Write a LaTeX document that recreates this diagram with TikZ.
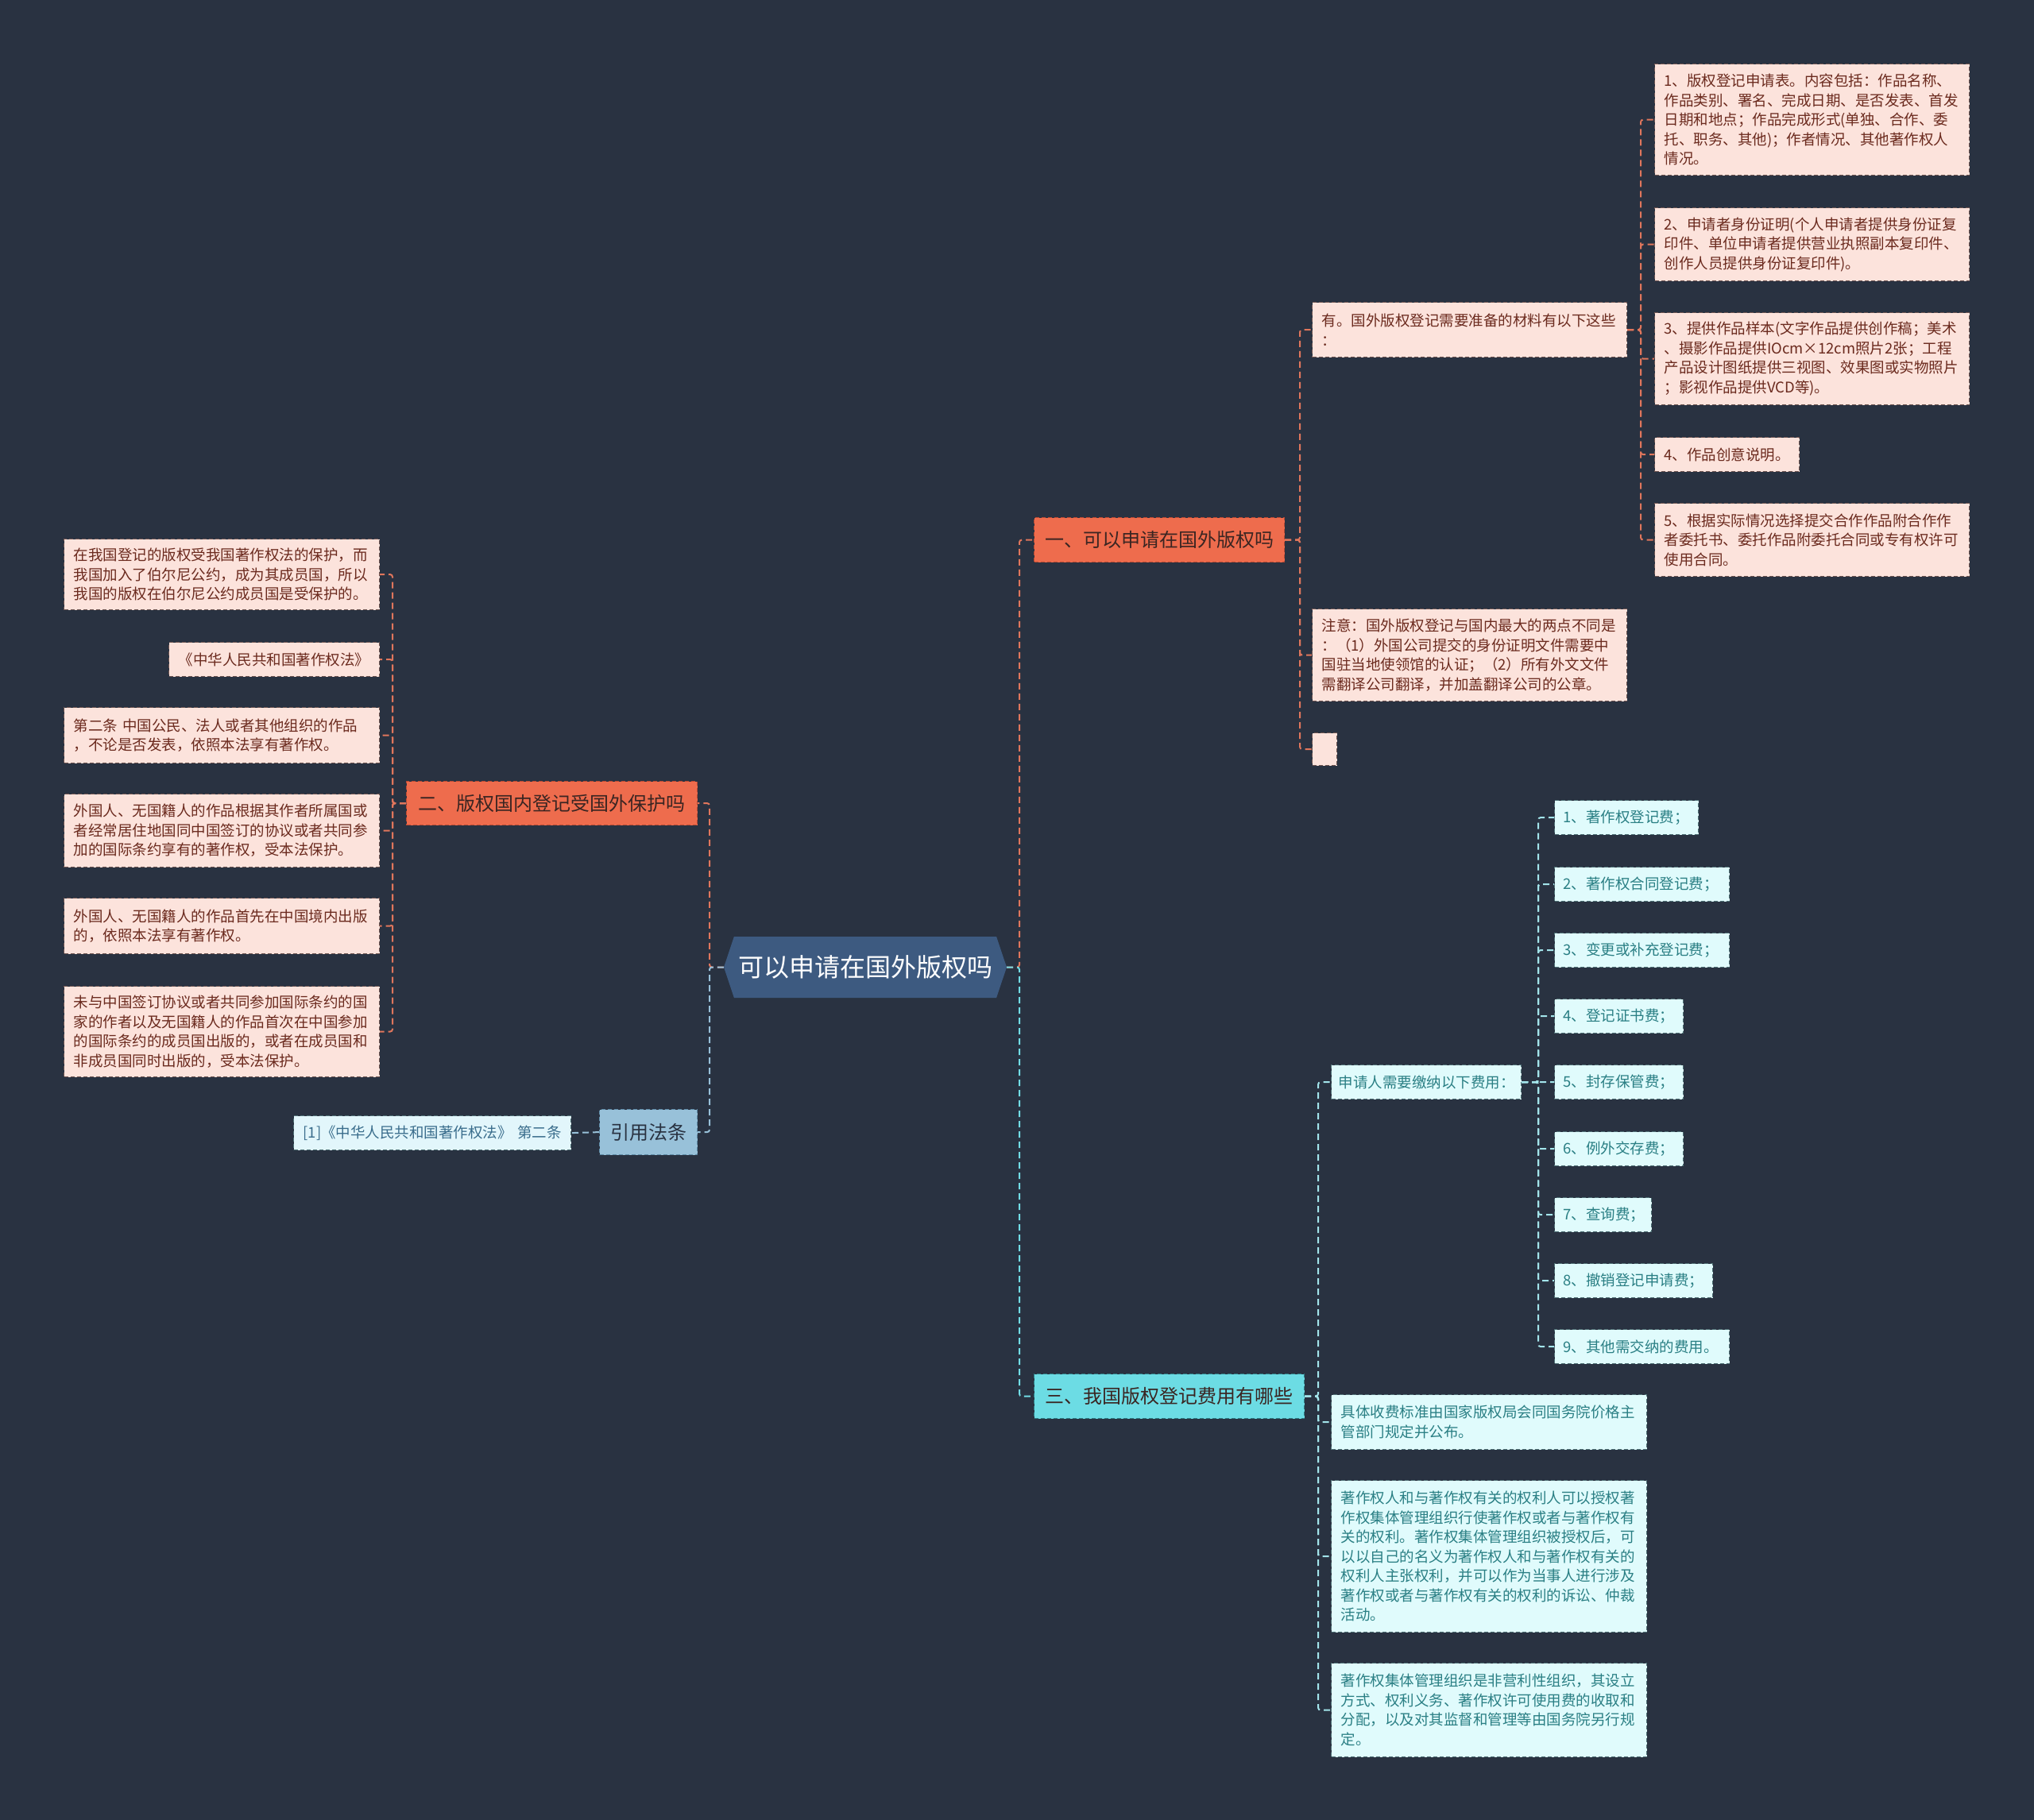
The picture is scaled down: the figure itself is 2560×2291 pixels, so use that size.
\documentclass[tikz,border=0pt]{standalone}
\usepackage{fontspec}
\setmainfont{Noto Sans CJK SC}
\usetikzlibrary{shapes.symbols}
\definecolor{bgc}{HTML}{293241}
\definecolor{rootfill}{HTML}{3D5A80}
\definecolor{orangefill}{HTML}{EE6C4D}
\definecolor{orangeedge}{HTML}{B94A33}
\definecolor{cyanmainfill}{HTML}{6CDCE4}
\definecolor{cyanmainedge}{HTML}{2F7C84}
\definecolor{bluefill}{HTML}{98C1D9}
\definecolor{blueedge}{HTML}{5F8BA6}
\definecolor{maindark}{HTML}{3A2522}
\definecolor{pinkfill}{HTML}{FCE3DC}
\definecolor{pinkedge}{HTML}{6E5450}
\definecolor{pinktext}{HTML}{6B2A1E}
\definecolor{cyanfill}{HTML}{E0FBFC}
\definecolor{cyanedge}{HTML}{4F7075}
\definecolor{cyantext}{HTML}{2A7F84}
\definecolor{reffill}{HTML}{E2F6FB}
\definecolor{reftext}{HTML}{3A6D8C}
\definecolor{orangeline}{HTML}{E0765C}
\definecolor{cyanline}{HTML}{72DDE6}
\definecolor{cyanline2}{HTML}{A3E5EB}
\definecolor{blueline}{HTML}{98C1D9}
\begin{document}
\begin{tikzpicture}[x=1pt,y=-1pt,
  rootnode/.style={shape=signal, signal to=east and west, signal pointer angle=143,
    fill=rootfill, text=white, minimum width=356pt, minimum height=77pt, inner sep=0pt,
    font=\fontsize{32}{38}\selectfont},
  mainbase/.style={anchor=north west, inner sep=0pt, line width=1.2pt,
    dash pattern=on 5pt off 3pt, font=\fontsize{24}{29}\selectfont},
  orangemain/.style={mainbase, fill=orangefill, draw=orangeedge, text=maindark},
  cyanmain/.style={mainbase, fill=cyanmainfill, draw=cyanmainedge, text=maindark},
  bluemain/.style={mainbase, fill=bluefill, draw=blueedge, text=bgc},
  leafbase/.style={anchor=north west, align=left, inner xsep=12pt, inner ysep=0pt,
    line width=1.2pt, dash pattern=on 5pt off 3pt, font=\fontsize{18.5}{24.5}\selectfont},
  pinkleaf/.style={leafbase, fill=pinkfill, draw=pinkedge, text=pinktext},
  cyanleaf/.style={leafbase, fill=cyanfill, draw=cyanedge, text=cyantext},
  feeleaf/.style={cyanleaf, inner xsep=11pt, minimum height=43pt},
  refleaf/.style={leafbase, inner xsep=12pt, fill=reffill, draw=cyanedge, text=reftext, minimum height=43pt},
  connbase/.style={line width=2pt, dash pattern=on 8pt off 5pt, rounded corners=3pt},
  oc/.style={connbase, draw=orangeline},
  cc/.style={connbase, draw=cyanline},
  cc2/.style={connbase, draw=cyanline2},
  bc/.style={connbase, draw=blueline}
]
\fill[bgc] (0,0) rectangle (2560,2291);
\useasboundingbox (0,0) rectangle (2560,2291);

% root
\node[rootnode] (root) at (1089,1217.5) {可以申请在国外版权吗};

% main branches
\node[orangemain, minimum width=315pt, minimum height=56pt] (b1) at (1301,651) {一、可以申请在国外版权吗};
\node[orangemain, minimum width=366pt, minimum height=55pt] (b2) at (511,983) {二、版权国内登记受国外保护吗};
\node[cyanmain, minimum width=340pt, minimum height=56pt] (b3) at (1301,1729) {三、我国版权登记费用有哪些};
\node[bluemain, minimum width=123pt, minimum height=57pt] (b4) at (754,1396) {引用法条};

% branch 1 children
\node[pinkleaf, text width=372pt, minimum height=69pt] (a1) at (1651,380) {有。国外版权登记需要准备的材料有以下这些\\：};
\node[pinkleaf, text width=372pt, minimum height=116pt] (a2) at (1651,766) {注意：国外版权登记与国内最大的两点不同是\\：（1）外国公司提交的身份证明文件需要中\\国驻当地使领馆的认证；（2）所有外文文件\\需翻译公司翻译，并加盖翻译公司的公章。};
\node[pinkleaf, inner xsep=0pt, minimum width=31pt, minimum height=41pt] (a3) at (1651,922) {};

% materials
\node[pinkleaf, text width=372pt, minimum height=140pt] (m1) at (2082,80) {1、版权登记申请表。内容包括：作品名称、\\作品类别、署名、完成日期、是否发表、首发\\日期和地点；作品完成形式(单独、合作、委\\托、职务、其他)；作者情况、其他著作权人\\情况。};
\node[pinkleaf, text width=372pt, minimum height=92pt] (m2) at (2082,261) {2、申请者身份证明(个人申请者提供身份证复\\印件、单位申请者提供营业执照副本复印件、\\创作人员提供身份证复印件)。};
\node[pinkleaf, text width=372pt, minimum height=116pt] (m3) at (2082,393) {3、提供作品样本(文字作品提供创作稿；美术\\、摄影作品提供IOcm×12cm照片2张；工程\\产品设计图纸提供三视图、效果图或实物照片\\；影视作品提供VCD等)。};
\node[pinkleaf, text width=158pt, minimum height=43pt] (m4) at (2082,550) {4、作品创意说明。};
\node[pinkleaf, text width=372pt, minimum height=92pt] (m5) at (2082,633) {5、根据实际情况选择提交合作作品附合作作\\者委托书、委托作品附委托合同或专有权许可\\使用合同。};

% branch 2 children
\node[pinkleaf, text width=373pt, minimum height=89pt] (l1) at (80,678) {在我国登记的版权受我国著作权法的保护，而\\我国加入了伯尔尼公约，成为其成员国，所以\\我国的版权在伯尔尼公约成员国是受保护的。};
\node[pinkleaf, text width=241pt, minimum height=43pt] (l2) at (212,808) {《中华人民共和国著作权法》};
\node[pinkleaf, text width=373pt, minimum height=70pt] (l3) at (80,890) {第二条 中国公民、法人或者其他组织的作品\\，不论是否发表，依照本法享有著作权。};
\node[pinkleaf, text width=373pt, minimum height=92pt] (l4) at (80,999) {外国人、无国籍人的作品根据其作者所属国或\\者经常居住地国同中国签订的协议或者共同参\\加的国际条约享有的著作权，受本法保护。};
\node[pinkleaf, text width=373pt, minimum height=70pt] (l5) at (80,1130) {外国人、无国籍人的作品首先在中国境内出版\\的，依照本法享有著作权。};
\node[pinkleaf, text width=373pt, minimum height=114pt] (l6) at (80,1241) {未与中国签订协议或者共同参加国际条约的国\\家的作者以及无国籍人的作品首次在中国参加\\的国际条约的成员国出版的，或者在成员国和\\非成员国同时出版的，受本法保护。};

% reference
\node[refleaf, text width=325pt] (r1) at (369,1404) {[1]《中华人民共和国著作权法》 第二条};

% branch 3 children
\node[cyanleaf, inner xsep=9pt, text width=221pt, minimum height=43pt] (c1) at (1675,1340) {申请人需要缴纳以下费用：};
\node[cyanleaf, text width=373pt, minimum height=69pt] (c2) at (1675,1755) {具体收费标准由国家版权局会同国务院价格主\\管部门规定并公布。};
\node[cyanleaf, text width=373pt, minimum height=191pt] (c3) at (1675,1863) {著作权人和与著作权有关的权利人可以授权著\\作权集体管理组织行使著作权或者与著作权有\\关的权利。著作权集体管理组织被授权后，可\\以以自己的名义为著作权人和与著作权有关的\\权利人主张权利，并可以作为当事人进行涉及\\著作权或者与著作权有关的权利的诉讼、仲裁\\活动。};
\node[cyanleaf, text width=373pt, minimum height=118pt] (c4) at (1675,2093) {著作权集体管理组织是非营利性组织，其设立\\方式、权利义务、著作权许可使用费的收取和\\分配，以及对其监督和管理等由国务院另行规\\定。};

% fees
\node[feeleaf, text width=159pt] (f1) at (1956,1007) {1、著作权登记费；};
\node[feeleaf, text width=198pt] (f2) at (1956,1091) {2、著作权合同登记费；};
\node[feeleaf, text width=198pt] (f3) at (1956,1174) {3、变更或补充登记费；};
\node[feeleaf, text width=140pt] (f4) at (1956,1257) {4、登记证书费；};
\node[feeleaf, text width=140pt] (f5) at (1956,1340) {5、封存保管费；};
\node[feeleaf, text width=140pt] (f6) at (1956,1424) {6、例外交存费；};
\node[feeleaf, text width=100pt] (f7) at (1956,1507) {7、查询费；};
\node[feeleaf, text width=177pt] (f8) at (1956,1590) {8、撤销登记申请费；};
\node[feeleaf, text width=198pt] (f9) at (1956,1673) {9、其他需交纳的费用。};

% vertical rails
\coordinate (vR) at (1283,0);
\coordinate (vL) at (893,0);
\coordinate (v1) at (1636,0);
\coordinate (vm) at (2065,0);
\coordinate (v2) at (494,0);
\coordinate (v3) at (1659,0);
\coordinate (vf) at (1936,0);

% connectors from root
\draw[oc] (root.east) -- (root.east -| vR) |- (b1.west);
\draw[cc] (root.east) -- (root.east -| vR) |- (b3.west);
\draw[oc] (root.west) -- (root.west -| vL) |- (b2.east);
\draw[bc] (root.west) -- (root.west -| vL) |- (b4.east);

% branch 1
\foreach \n in {a1,a2,a3} {\draw[oc] (b1.east) -- (b1.east -| v1) |- (\n.west);}
\foreach \n in {m1,m2,m3,m4,m5} {\draw[oc] (a1.east) -- (a1.east -| vm) |- (\n.west);}

% branch 2
\foreach \n in {l1,l2,l3,l4,l5,l6} {\draw[oc] (b2.west) -- (b2.west -| v2) |- (\n.east);}

% reference
\draw[bc] (b4.west) -- (r1.east);

% branch 3
\foreach \n in {c1,c2,c3,c4} {\draw[cc2] (b3.east) -- (b3.east -| v3) |- (\n.west);}
\foreach \n in {f1,f2,f3,f4,f5,f6,f7,f8,f9} {\draw[cc2] (c1.east) -- (c1.east -| vf) |- (\n.west);}
\end{tikzpicture}
\end{document}
